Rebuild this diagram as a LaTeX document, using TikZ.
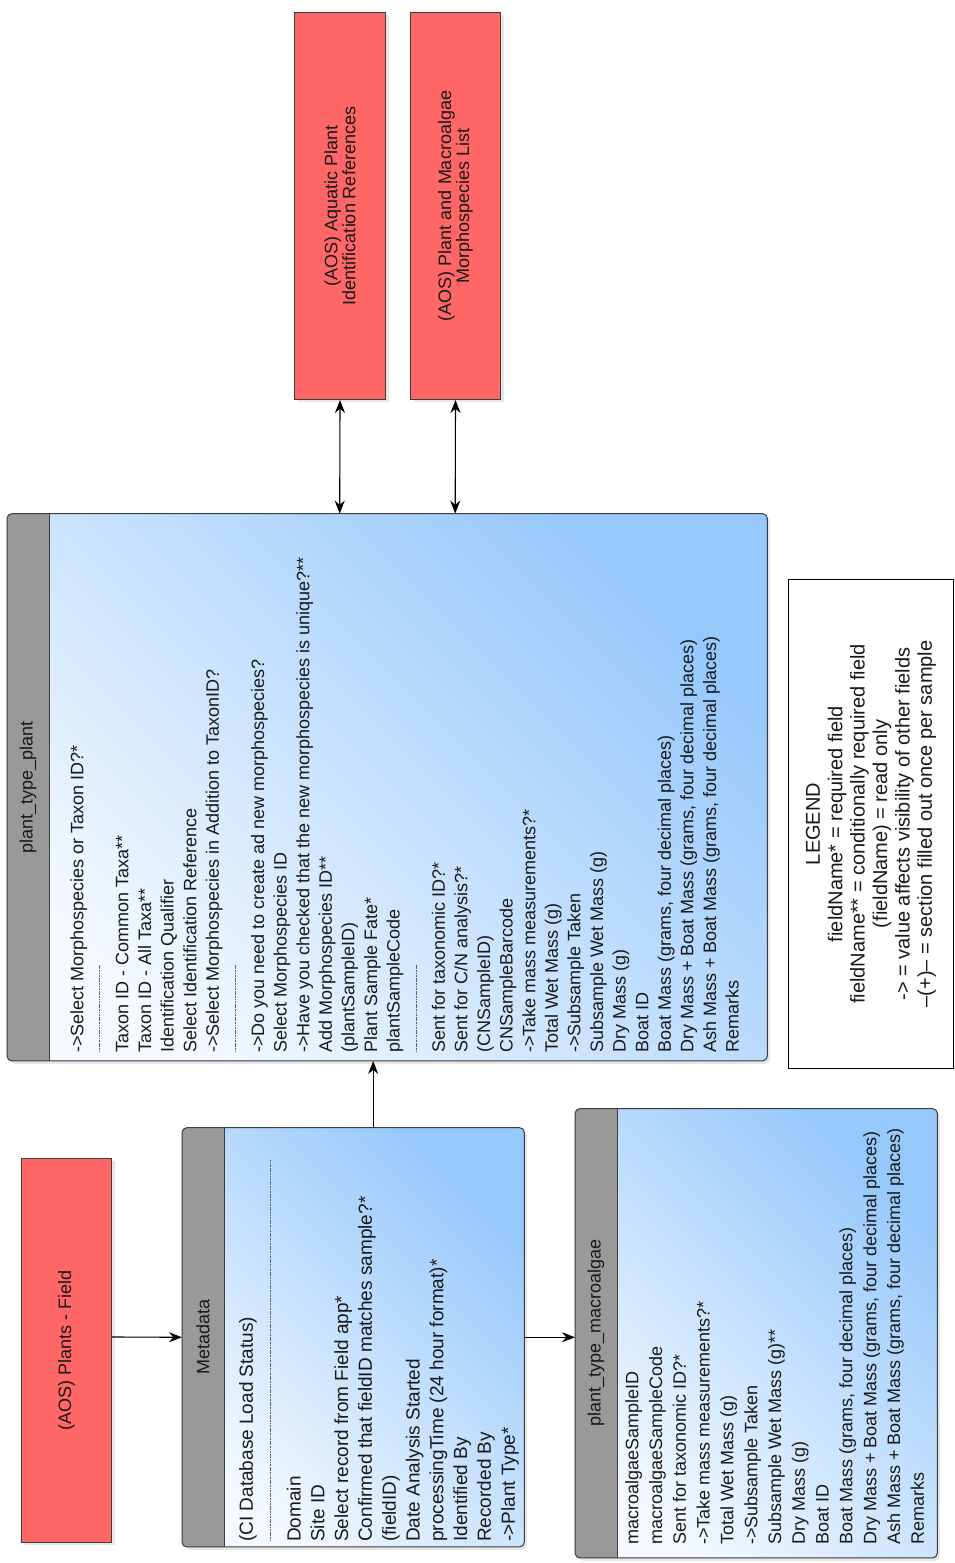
\documentclass[tikz,border=0pt]{standalone}
\usepackage{fontspec}
\setmainfont{Liberation Sans}
\usetikzlibrary{arrows.meta,shadows}

\definecolor{aosred}{RGB}{255,102,102}
\definecolor{hdrgray}{RGB}{153,153,153}
\definecolor{bodylight}{RGB}{244,249,255}
\definecolor{bodyblue}{RGB}{150,200,252}
\definecolor{edge}{RGB}{60,60,60}
\definecolor{sepblue}{RGB}{80,100,130}
\definecolor{ink}{RGB}{25,25,25}

\newcommand{\dashsep}[1]{\textcolor{sepblue}{\leaders\hbox to 2.6pt{\hss\rule[0.3em]{1.8pt}{1pt}\hss}\hskip #1}}

\tikzset{
  aosbox/.style={draw=edge, line width=1pt, fill=aosred, text=ink, align=center,
    font=\fontsize{18}{18}\selectfont,
    drop shadow={opacity=0.2, shadow xshift=3pt, shadow yshift=-3pt}},
  entity/.style={rounded corners=5pt, top color=bodylight, bottom color=bodyblue, shading angle=135,
    drop shadow={opacity=0.2, shadow xshift=3pt, shadow yshift=-3pt}},
  boxtitle/.style={text=ink, font=\fontsize{18}{22}\selectfont},
  fieldlist/.style={text=ink, align=left, inner sep=0pt, anchor=north west},
  flow/.style={line width=1.1pt, -{Stealth[length=13pt,width=10pt]}},
  twoway/.style={line width=1.1pt, {Stealth[length=13pt,width=10pt]}-{Stealth[length=13pt,width=10pt]}},
}

\begin{document}
\begin{tikzpicture}[x=1pt, y=1pt]
  \useasboundingbox (0,0) rectangle (954,1563);
  \begin{scope}[rotate=90, transform shape]
    % apps
    \node[aosbox, minimum width=384pt, minimum height=90pt, anchor=north west] (field) at (20,-21) {(AOS) Plants - Field};
    \node[aosbox, minimum width=387pt, minimum height=91pt, anchor=north west] (idref) at (1163,-294) {(AOS) Aquatic Plant\\Identification References};
    \node[aosbox, minimum width=387pt, minimum height=90pt, anchor=north west] (morpho) at (1163,-410) {(AOS) Plant and Macroalgae\\Morphospecies List};

    % tables
    \node[entity, minimum width=419pt, minimum height=342pt, anchor=north west] (meta) at (16,-182) {};
    \node[entity, minimum width=547pt, minimum height=760pt, anchor=north west] (plant) at (502,-7) {};
    \node[entity, minimum width=449pt, minimum height=362pt, anchor=north west] (macro) at (5,-575) {};

    \foreach \e/\t in {meta/Metadata, plant/plant\_type\_plant, macro/plant\_type\_macroalgae} {
      \begin{scope}
        \clip[rounded corners=5pt] (\e.south west) rectangle (\e.north east);
        \fill[hdrgray] (\e.north west) rectangle ([yshift=-42pt]\e.north east);
      \end{scope}
      \draw[edge, line width=1pt, rounded corners=5pt] (\e.south west) rectangle (\e.north east);
      \draw[edge, line width=1pt] ([yshift=-42pt]\e.north west) -- ([yshift=-42pt]\e.north east);
      \node[boxtitle] (\e title) at ([yshift=-21pt]\e.north) {\t};
    }

    \node[fieldlist, font=\fontsize{19}{23.8}\selectfont] (metafields) at ([xshift=5pt,yshift=-57pt]meta.north west) {(CI Database Load Status)\\
      \dashsep{383pt}\\
      Domain\\
      Site ID\\
      Select record from Field app*\\
      Confirmed that fieldID matches sample?*\\
      (fieldID)\\
      Date Analysis Started\\
      processingTime (24 hour format)*\\
      Identified By\\
      Recorded By\\
      ->Plant Type*};

    \node[fieldlist, font=\fontsize{18}{22.6}\selectfont] (plantfields) at ([xshift=8pt,yshift=-63pt]plant.north west) {->Select Morphospecies or Taxon ID?*\\
      \dashsep{90pt}\\
      Taxon ID - Common Taxa**\\
      Taxon ID - All Taxa**\\
      Identification Qualifier\\
      Select Identification Reference\\
      ->Select Morphospecies in Addition to TaxonID?\\
      \dashsep{90pt}\\
      ->Do you need to create ad new morphospecies?\\
      Select Morphospecies ID\\
      ->Have you checked that the new morphospecies is unique?**\\
      Add Morphospecies ID**\\
      (plantSampleID)\\
      Plant Sample Fate*\\
      plantSampleCode\\
      \dashsep{90pt}\\
      Sent for taxonomic ID?*\\
      Sent for C/N analysis?*\\
      (CNSampleID)\\
      CNSampleBarcode\\
      ->Take mass measurements?*\\
      Total Wet Mass (g)\\
      ->Subsample Taken\\
      Subsample Wet Mass (g)\\
      Dry Mass (g)\\
      Boat ID\\
      Boat Mass (grams, four decimal places)\\
      Dry Mass + Boat Mass (grams, four decimal places)\\
      Ash Mass + Boat Mass (grams, four decimal places)\\
      Remarks};

    \node[fieldlist, font=\fontsize{18}{23.8}\selectfont] (macrofields) at ([xshift=13pt,yshift=-50pt]macro.north west) {macroalgaeSampleID\\
      macroalgaeSampleCode\\
      Sent for taxonomic ID?*\\
      ->Take mass measurements?*\\
      Total Wet Mass (g)\\
      ->Subsample Taken\\
      Subsample Wet Mass (g)**\\
      Dry Mass (g)\\
      Boat ID\\
      Boat Mass (grams, four decimal places)\\
      Dry Mass + Boat Mass (grams, four decimal places)\\
      Ash Mass + Boat Mass (grams, four decimal places)\\
      Remarks};

    % legend
    \node[draw=black, line width=1pt, fill=white, text=ink, minimum width=489pt, minimum height=165pt,
      anchor=north west, align=center, font=\fontsize{20}{22.4}\selectfont] (legend) at (494,-788)
      {LEGEND\\
       fieldName* = required field\\
       fieldName** = conditionally required field\\
       (fieldName) = read only\\
       -> = value affects visibility of other fields\\
       --(+)-- = section filled out once per sample};

    % connectors
    \draw[flow] ([xshift=13.5pt]field.south) -- (meta.north);
    \draw[flow] (meta.south) -- ([xshift=-4pt]macro.north);
    \draw[flow] ([yshift=-20pt]meta.east) -- ([yshift=14pt]plant.west);
    \draw[twoway] ([yshift=47.5pt]plant.east) -- (idref.west);
    \draw[twoway] ([yshift=-68pt]plant.east) -- (morpho.west);
  \end{scope}
\end{tikzpicture}
\end{document}
